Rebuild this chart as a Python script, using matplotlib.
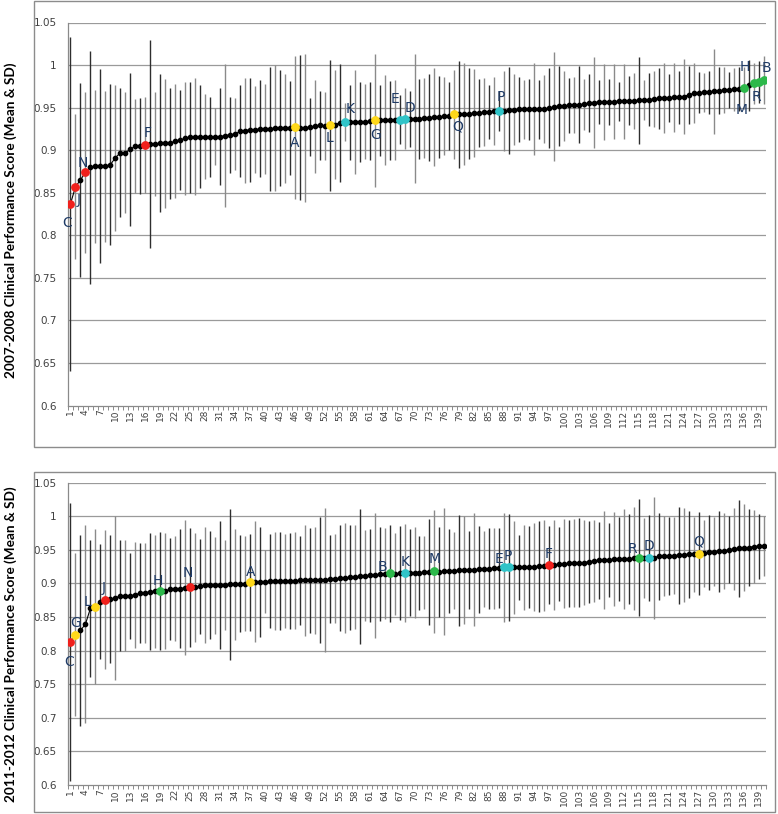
import numpy as np
import matplotlib.pyplot as plt
from matplotlib.patches import Rectangle

# ---- data: 140 practices, sorted by mean score ----
mean_0708 = [
    0.837, 0.857, 0.865, 0.874, 0.880, 0.881, 0.881, 0.881, 0.883, 0.891,
    0.897, 0.897, 0.901, 0.905, 0.905, 0.906, 0.907, 0.907, 0.908, 0.908,
    0.908, 0.911, 0.912, 0.914, 0.915, 0.916, 0.916, 0.916, 0.916, 0.916,
    0.916, 0.917, 0.918, 0.919, 0.922, 0.923, 0.924, 0.924, 0.925, 0.925,
    0.925, 0.926, 0.926, 0.926, 0.926, 0.927, 0.9265, 0.9265, 0.927, 0.928,
    0.929, 0.928, 0.929, 0.930, 0.932, 0.933, 0.933, 0.933, 0.9335, 0.9335,
    0.934, 0.935, 0.935, 0.935, 0.935, 0.9355, 0.936, 0.937, 0.937, 0.937,
    0.937, 0.9375, 0.938, 0.939, 0.939, 0.940, 0.940, 0.942, 0.942, 0.9425,
    0.943, 0.9435, 0.944, 0.9445, 0.945, 0.9455, 0.946, 0.9465, 0.947, 0.9475,
    0.948, 0.948, 0.948, 0.948, 0.948, 0.948, 0.949, 0.951, 0.9515, 0.952,
    0.9525, 0.953, 0.9535, 0.954, 0.9555, 0.956, 0.9565, 0.9565, 0.9565, 0.957,
    0.9575, 0.9575, 0.958, 0.958, 0.9585, 0.959, 0.9595, 0.960, 0.961, 0.9615,
    0.9615, 0.962, 0.962, 0.963, 0.965, 0.967, 0.9675, 0.968, 0.968, 0.969,
    0.970, 0.9705, 0.971, 0.9715, 0.9715, 0.973, 0.976, 0.9785, 0.980, 0.9825,
]
sd_0708 = [
    0.196, 0.085, 0.114, 0.0945, 0.137, 0.090, 0.114, 0.089, 0.0945, 0.086,
    0.0755, 0.071, 0.090, 0.0555, 0.056, 0.0565, 0.1225, 0.061, 0.081, 0.0755,
    0.065, 0.067, 0.059, 0.0665, 0.065, 0.069, 0.060, 0.050, 0.047, 0.033,
    0.0565, 0.084, 0.0445, 0.042, 0.054, 0.062, 0.061, 0.051, 0.057, 0.053,
    0.0725, 0.0745, 0.068, 0.064, 0.055, 0.084, 0.085, 0.087, 0.034, 0.055,
    0.040, 0.040, 0.077, 0.064, 0.069, 0.0225, 0.044, 0.061, 0.047, 0.044,
    0.046, 0.078, 0.042, 0.053, 0.046, 0.047, 0.029, 0.036, 0.033, 0.076,
    0.047, 0.047, 0.051, 0.058, 0.048, 0.046, 0.040, 0.052, 0.063, 0.060,
    0.053, 0.052, 0.040, 0.040, 0.032, 0.040, 0.0235, 0.047, 0.051, 0.042,
    0.038, 0.035, 0.036, 0.054, 0.035, 0.040, 0.047, 0.064, 0.047, 0.041,
    0.032, 0.033, 0.045, 0.030, 0.034, 0.053, 0.026, 0.045, 0.027, 0.044,
    0.023, 0.044, 0.029, 0.033, 0.051, 0.024, 0.031, 0.033, 0.036, 0.041,
    0.028, 0.041, 0.031, 0.044, 0.034, 0.035, 0.024, 0.023, 0.025, 0.050,
    0.028, 0.027, 0.021, 0.025, 0.026, 0.025, 0.030, 0.024, 0.025, 0.028,
]
mean_1112 = [
    0.813, 0.824, 0.830, 0.8395, 0.863, 0.8655, 0.873, 0.876, 0.877, 0.878,
    0.882, 0.882, 0.882, 0.883, 0.886, 0.886, 0.888, 0.8885, 0.889, 0.889,
    0.8915, 0.8925, 0.8925, 0.8935, 0.894, 0.894, 0.8955, 0.8975, 0.8975, 0.8975,
    0.8975, 0.898, 0.8985, 0.899, 0.8995, 0.8995, 0.9015, 0.9025, 0.902, 0.9025,
    0.9035, 0.9035, 0.9035, 0.9035, 0.9035, 0.904, 0.9045, 0.9045, 0.9045, 0.9045,
    0.905, 0.9055, 0.9065, 0.907, 0.9075, 0.908, 0.909, 0.9095, 0.9105, 0.9115,
    0.912, 0.9125, 0.9135, 0.9145, 0.915, 0.9145, 0.915, 0.916, 0.916, 0.916,
    0.916, 0.9165, 0.917, 0.918, 0.9175, 0.918, 0.9185, 0.919, 0.9195, 0.920,
    0.920, 0.9205, 0.921, 0.9215, 0.922, 0.9225, 0.923, 0.924, 0.924, 0.924,
    0.924, 0.924, 0.924, 0.9245, 0.9255, 0.9265, 0.9275, 0.9275, 0.9285, 0.9295,
    0.930, 0.9305, 0.931, 0.931, 0.9325, 0.9335, 0.9345, 0.9355, 0.9355, 0.936,
    0.9365, 0.9365, 0.937, 0.9375, 0.938, 0.938, 0.938, 0.9385, 0.9405, 0.941,
    0.941, 0.9415, 0.942, 0.943, 0.9435, 0.9435, 0.9445, 0.945, 0.9465, 0.9475,
    0.948, 0.9485, 0.950, 0.9515, 0.9525, 0.9535, 0.9535, 0.955, 0.9555, 0.9555,
]
sd_1112 = [
    0.207, 0.121, 0.1415, 0.1475, 0.102, 0.115, 0.086, 0.103, 0.095, 0.122,
    0.082, 0.082, 0.064, 0.079, 0.074, 0.074, 0.087, 0.084, 0.088, 0.086,
    0.076, 0.0775, 0.089, 0.1005, 0.088, 0.081, 0.071, 0.086, 0.080, 0.072,
    0.095, 0.067, 0.1125, 0.0825, 0.072, 0.071, 0.072, 0.090, 0.082, 0.047,
    0.070, 0.0725, 0.073, 0.070, 0.072, 0.072, 0.066, 0.0825, 0.078, 0.079,
    0.094, 0.107, 0.066, 0.066, 0.079, 0.082, 0.0785, 0.078, 0.101, 0.068,
    0.069, 0.093, 0.070, 0.068, 0.0725, 0.061, 0.070, 0.073, 0.065, 0.068,
    0.055, 0.054, 0.079, 0.091, 0.067, 0.095, 0.063, 0.057, 0.0825, 0.081,
    0.058, 0.084, 0.065, 0.057, 0.060, 0.060, 0.060, 0.081, 0.080, 0.069,
    0.048, 0.063, 0.061, 0.066, 0.068, 0.068, 0.058, 0.067, 0.055, 0.066,
    0.0646, 0.065, 0.066, 0.063, 0.061, 0.061, 0.057, 0.073, 0.055, 0.070,
    0.062, 0.0745, 0.067, 0.077, 0.087, 0.060, 0.064, 0.0907, 0.0646, 0.0596,
    0.0586, 0.057, 0.072, 0.070, 0.0646, 0.056, 0.062, 0.050, 0.056, 0.052,
    0.060, 0.057, 0.050, 0.061, 0.072, 0.0646, 0.057, 0.0546, 0.0484, 0.045,
]

# highlighted practices: letter -> (rank position, group)
marks_0708 = {
    "C": (1, "red"), "J": (2, "red"), "N": (4, "red"), "F": (16, "red"),
    "A": (46, "yellow"), "L": (53, "yellow"), "K": (56, "cyan"), "G": (62, "yellow"),
    "E": (67, "cyan"), "D": (68, "cyan"), "Q": (78, "yellow"), "P": (87, "cyan"),
    "M": (136, "green"), "H": (138, "green"), "R": (139, "green"), "B": (140, "green"),
}
marks_1112 = {
    "C": (1, "red"), "G": (2, "yellow"), "L": (6, "yellow"), "J": (8, "red"),
    "H": (19, "green"), "N": (25, "red"), "A": (37, "yellow"), "B": (65, "green"),
    "K": (68, "cyan"), "M": (74, "green"), "E": (88, "cyan"), "P": (89, "cyan"),
    "F": (97, "red"), "R": (115, "green"), "D": (117, "cyan"), "Q": (127, "yellow"),
}
ylabel_0708 = "2007-2008 Clinical Performance Score (Mean & SD)"
ylabel_1112 = "2011-2012 Clinical Performance Score (Mean & SD)"

# ---- styling / layout ----
group_colors = {"red": "#f0201c", "yellow": "#ffd81a", "cyan": "#30c4c8", "green": "#2cb84a"}
letter_color = "#1f3b66"
grid_color = "#9a9a9a"
axis_color = "#8a8a8a"

# label offsets (x in positions, y in score units)
offs_0708 = {
    "C": (-0.6, -0.0225), "J": (0.7, -0.015), "N": (-0.5, 0.0115), "F": (0.5, 0.014),
    "A": (-0.1, -0.018), "L": (0.0, -0.015), "K": (1.1, 0.015), "G": (0.3, -0.017),
    "E": (-0.9, 0.024), "D": (1.1, 0.013), "Q": (0.7, -0.0145), "P": (0.3, 0.016),
    "M": (-0.4, -0.026), "H": (-1.7, 0.019), "R": (-0.4, -0.017), "B": (0.6, 0.0135),
}
offs_1112 = {
    "C": (-0.3, -0.030), "G": (0.1, 0.017), "L": (-1.6, 0.0075), "J": (-0.3, 0.017),
    "H": (-0.4, 0.015), "N": (-0.4, 0.021), "A": (0.1, 0.0155), "B": (-1.4, 0.010),
    "K": (0.1, 0.016), "M": (0.0, 0.018), "E": (-1.0, 0.012), "P": (-0.2, 0.017),
    "F": (0.0, 0.0165), "R": (-1.2, 0.014), "D": (0.0, 0.018), "Q": (0.0, 0.0185),
}

W, H = 778, 814
fig = plt.figure(figsize=(W / 100, H / 100), dpi=100)


def px_box(x0, y0, x1, y1):
    # pixel box (top-left origin) -> figure fraction rect
    return [x0 / W, 1 - y1 / H, (x1 - x0) / W, (y1 - y0) / H]


def draw_panel(rect, means, sds, marks, offs):
    ax = fig.add_axes(rect)
    m = np.array(means)
    s = np.array(sds)
    x = np.arange(1, len(m) + 1)

    bar_cols = ["#2e2e2e" if i % 2 == 0 else "#8a8a8a" for i in range(len(m))]
    ax.vlines(x, m - s, m + s, colors=bar_cols, lw=1.0, zorder=2)
    ax.plot(x, m, "-o", color="black", lw=0.8, ms=3.1, zorder=3)

    for letter, (pos, grp) in marks.items():
        ax.plot(pos, m[pos - 1], "o", color=group_colors[grp], ms=5.3, zorder=4)
        dx, dy = offs[letter]
        ax.text(pos + dx, m[pos - 1] + dy, letter, color=letter_color,
                fontsize=10, ha="center", va="center", zorder=5)

    ax.set_xlim(0.5, len(m) + 0.5)
    ax.set_ylim(0.6, 1.05)
    yt = np.arange(0.6, 1.0501, 0.05)
    ax.set_yticks(yt)
    ax.set_yticklabels([("%.2f" % v).rstrip("0").rstrip(".") for v in yt],
                       fontsize=7.5, color="#404040")
    ax.tick_params(axis="y", length=0, pad=8)
    for v in yt[1:]:
        ax.axhline(v, color=grid_color, lw=0.9, zorder=1)

    ax.set_xticks(np.arange(1, len(m) + 1, 3))
    ax.set_xticklabels([str(i) for i in range(1, len(m) + 1, 3)],
                       rotation=90, fontsize=6.5, color="#404040")
    ax.tick_params(axis="x", which="major", length=0, pad=3)
    ax.set_xticks(np.arange(0.5, len(m) + 1, 1), minor=True)
    ax.tick_params(axis="x", which="minor", length=3, color=axis_color, width=0.7)

    for side in ("top", "right"):
        ax.spines[side].set_visible(False)
    for side in ("left", "bottom"):
        ax.spines[side].set_color(axis_color)
        ax.spines[side].set_linewidth(0.9)
    return ax


draw_panel(px_box(68, 22.5, 766, 405.5), mean_0708, sd_0708, marks_0708, offs_0708)
draw_panel(px_box(68, 482.7, 766, 785), mean_1112, sd_1112, marks_1112, offs_1112)

# outer chart borders
for box in (px_box(34, 1, 775, 447), px_box(34, 472, 775, 812)):
    fig.patches.append(Rectangle((box[0], box[1]), box[2], box[3], transform=fig.transFigure,
                                 fill=False, edgecolor="#8c8c8c", lw=1.0))

fig.text(11 / W, 1 - 220 / H, ylabel_0708, rotation=90, ha="center", va="center",
         fontsize=9.8, fontweight="bold", family="Lato")
fig.text(11 / W, 1 - 644 / H, ylabel_1112, rotation=90, ha="center", va="center",
         fontsize=9.8, fontweight="bold", family="Lato")

fig.savefig("out.png", dpi=100, facecolor="white")
